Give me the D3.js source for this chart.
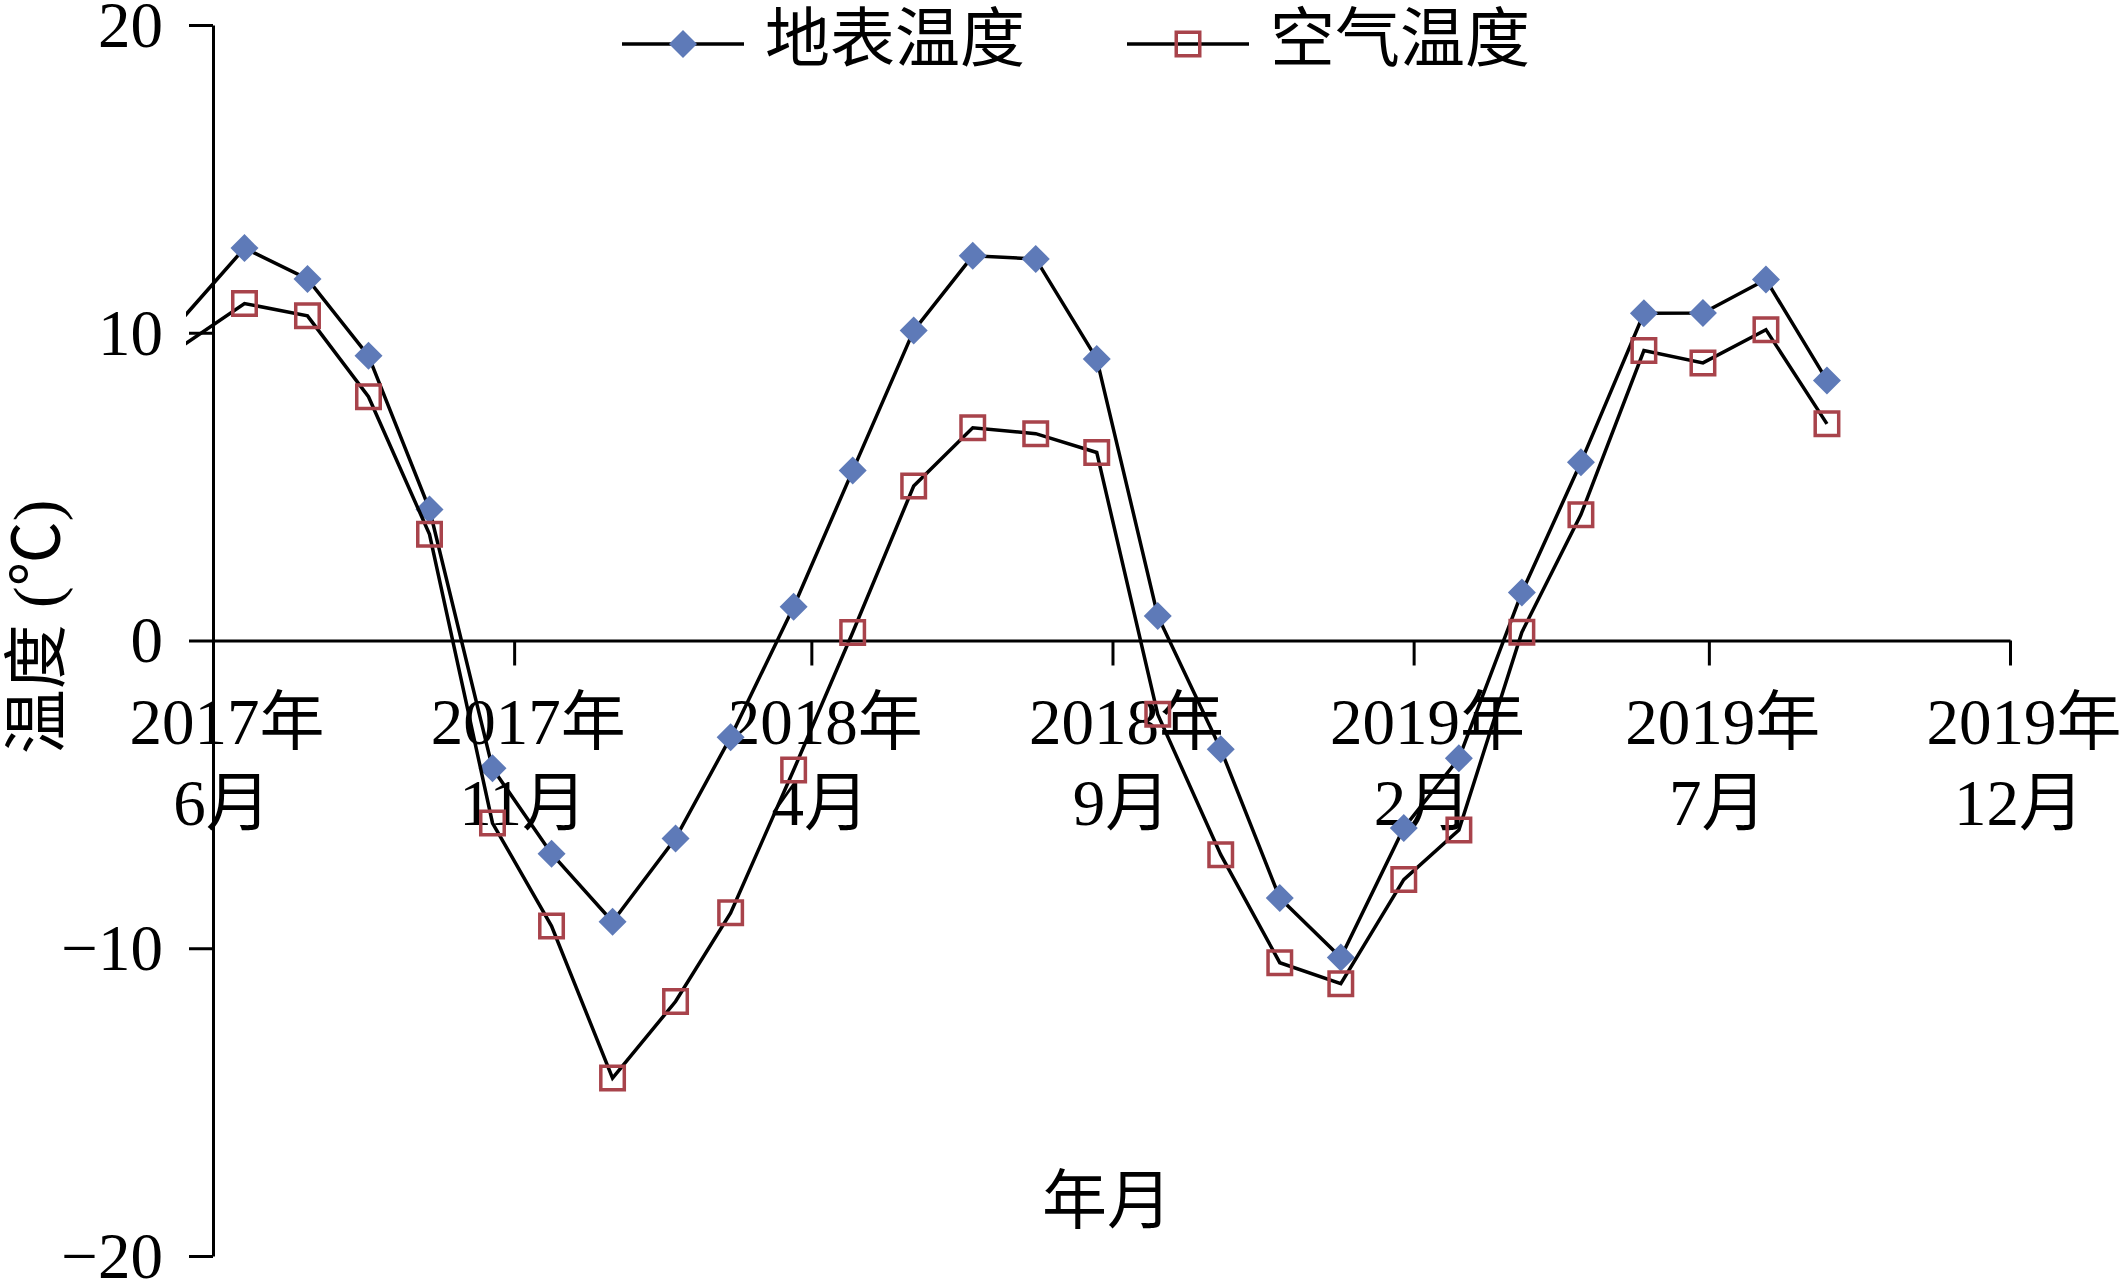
<!DOCTYPE html>
<html>
<head>
<meta charset="utf-8">
<script src="https://cdn.jsdelivr.net/npm/d3@7"></script>
<style>
  body { margin: 0; background: #fff; }
  text { font-family: "Liberation Serif", "Times New Roman", "Noto Sans CJK SC", serif; fill: #000; }
</style>
</head>
<body>
<div id="chart"></div>
<script>
// measurement dates (first one lies before the axis start, only its line segment shows)
const dates = [
  "2017-05-17", "2017-06-17", "2017-07-19", "2017-08-19", "2017-09-19", "2017-10-21",
  "2017-11-20", "2017-12-21", "2018-01-22", "2018-02-19", "2018-03-23", "2018-04-22",
  "2018-05-23", "2018-06-22", "2018-07-24", "2018-08-24", "2018-09-24", "2018-10-26",
  "2018-11-25", "2018-12-26", "2019-01-27", "2019-02-24", "2019-03-28", "2019-04-27",
  "2019-05-29", "2019-06-28", "2019-07-30", "2019-08-30"
];
const surfaceTemp = [
  10.5, 12.75, 11.75, 9.25, 4.26, -4.15, -6.93, -9.14, -6.43, -3.14, 1.1, 5.52,
  10.07, 12.5, 12.4, 9.15, 0.8, -3.53, -8.37, -10.3, -6.09, -3.83, 1.56, 5.79,
  10.63, 10.64, 11.73, 8.45
];
const airTemp = [
  9.6, 10.95, 10.55, 7.92, 3.45, -5.93, -9.28, -14.22, -11.73, -8.85, -4.21, 0.26,
  5.02, 6.91, 6.72, 6.11, -2.4, -6.96, -10.47, -11.15, -7.77, -6.16, 0.27, 4.09,
  9.42, 9.02, 10.1, 7.04
];
const tickDates = ["2017-06-01", "2017-11-01", "2018-04-01", "2018-09-01", "2019-02-01", "2019-07-01", "2019-12-01"];
const tickYears = ["2017年", "2017年", "2018年", "2018年", "2019年", "2019年", "2019年"];
const tickMonths = ["6月", "11月", "4月", "9月", "2月", "7月", "12月"];
const yTicks = [-20, -10, 0, 10, 20];
const seriesNames = ["地表温度", "空气温度"];

const width = 2122, height = 1283;
const parse = d3.utcParse("%Y-%m-%d");

const x = d3.scaleUtc()
    .domain([parse(tickDates[0]), parse(tickDates[tickDates.length - 1])])
    .range([213, 2010]);
const y = d3.scaleLinear()
    .domain([-20, 20])
    .range([1256, 25]);

const svg = d3.select("#chart")
    .append("svg")
    .attr("width", width)
    .attr("height", height)
    .style("display", "block");

svg.append("rect").attr("width", width).attr("height", height).attr("fill", "#fff");

svg.append("clipPath").attr("id", "plot")
  .append("rect")
    .attr("x", 186).attr("y", 0)
    .attr("width", 2010 - 186).attr("height", height);

// y axis
const yAxis = svg.append("g")
    .attr("transform", "translate(213,0)")
    .call(d3.axisLeft(y).tickValues(yTicks).tickSize(24).tickSizeOuter(0)
        .tickPadding(26).tickFormat(d3.format("d")));

// x axis at y = 0
const xAxis = svg.append("g")
    .attr("transform", `translate(0,${y(0)})`)
    .call(d3.axisBottom(x).tickValues(tickDates.map(parse)).tickSize(25)
        .tickSizeOuter(0).tickFormat(""));

[yAxis, xAxis].forEach(g => {
  g.selectAll("path.domain").attr("stroke", "#000").attr("stroke-width", 3);
  g.selectAll(".tick line").attr("stroke", "#000").attr("stroke-width", 3);
});
yAxis.selectAll(".tick text")
    .attr("font-size", 65)
    .attr("dy", "0.33em")
    .style("font-family", "'Liberation Serif', 'Times New Roman', serif")
    .attr("fill", "#000");

// two-line x labels
const xl = svg.append("g").attr("font-size", 65).attr("text-anchor", "middle");
tickDates.forEach((d, i) => {
  const cx = x(parse(d)) + 12;
  xl.append("text").attr("x", cx + 2).attr("y", 744).text(tickYears[i]);
  xl.append("text").attr("x", cx - 3).attr("y", 825).text(tickMonths[i]);
});

// axis titles
svg.append("text")
    .attr("transform", "translate(59,627) rotate(-90)")
    .attr("text-anchor", "middle")
    .attr("font-size", 65)
    .text("温度 (℃)");
svg.append("text")
    .attr("x", 1107).attr("y", 1223)
    .attr("text-anchor", "middle")
    .attr("font-size", 65)
    .text("年月");

// series
const points = vals => dates.map((d, i) => ({ date: parse(d), v: vals[i] }));
const line = d3.line().x(d => x(d.date)).y(d => y(d.v));
const diamond = d3.symbol().type(d3.symbolSquare).size(392);
const square = d3.symbol().type(d3.symbolSquare).size(552);

const plot = svg.append("g").attr("clip-path", "url(#plot)");

function drawMarker(g, kind, px, py) {
  if (kind === 0) {
    g.append("path")
        .attr("d", diamond())
        .attr("transform", `translate(${px},${py}) rotate(45)`)
        .attr("fill", "#5E7AB8");
  } else {
    g.append("path")
        .attr("d", square())
        .attr("transform", `translate(${px},${py})`)
        .attr("fill", "none")
        .attr("stroke", "#A8434B")
        .attr("stroke-width", 3.5);
  }
}

[surfaceTemp, airTemp].forEach((vals, k) => {
  const pts = points(vals);
  plot.append("path")
      .datum(pts)
      .attr("d", line)
      .attr("fill", "none")
      .attr("stroke", "#000")
      .attr("stroke-width", 3.5)
      .attr("stroke-linejoin", "miter");
  const mg = plot.append("g");
  pts.filter(p => p.date >= x.domain()[0]).forEach(p => drawMarker(mg, k, x(p.date), y(p.v)));
});

// legend
const legendX = [622, 1127];
seriesNames.forEach((name, k) => {
  const g = svg.append("g");
  g.append("line")
      .attr("x1", legendX[k]).attr("x2", legendX[k] + 122)
      .attr("y1", 44).attr("y2", 44)
      .attr("stroke", "#000").attr("stroke-width", 3.5);
  drawMarker(g, k, legendX[k] + 61, 44);
  g.append("text")
      .attr("x", legendX[k] + 143).attr("y", 61)
      .attr("font-size", 65)
      .text(name);
});
</script>
</body>
</html>
